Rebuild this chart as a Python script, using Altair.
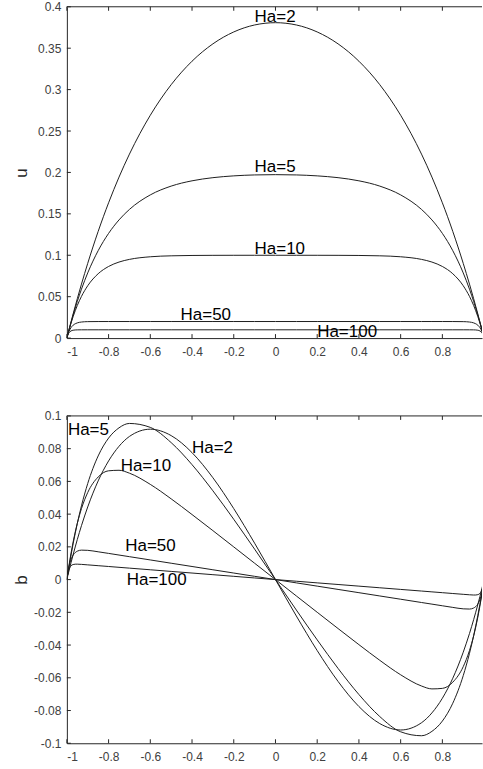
import altair as alt
import pandas as pd

# x positions across the channel
X = [-1, -0.995, -0.99, -0.98, -0.97, -0.96, -0.95, -0.93, -0.9, -0.85, -0.8, -0.75, -0.7,
     -0.6, -0.5, -0.4, -0.3, -0.2, -0.1, 0,
     0.1, 0.2, 0.3, 0.4, 0.5, 0.6, 0.7, 0.75, 0.8, 0.85, 0.9, 0.93, 0.95, 0.96, 0.97,
     0.98, 0.99, 0.995, 1]

HA_NAMES = ["Ha=2", "Ha=5", "Ha=10", "Ha=50", "Ha=100"]

# velocity u
U_HA2 = [0, 0.00498, 0.0099, 0.01959, 0.02908, 0.03838, 0.04749, 0.06514, 0.09026, 0.12874,
         0.16333, 0.19436, 0.22213, 0.26904, 0.30593, 0.33428, 0.35523, 0.36962, 0.37803,
         0.3808,
         0.37803, 0.36962, 0.35523, 0.33428, 0.30593, 0.26904, 0.22213, 0.19436, 0.16333,
         0.12874, 0.09026, 0.06514, 0.04749, 0.03838, 0.02908, 0.01959, 0.0099, 0.00498, 0]
U_HA5 = [0, 0.00494, 0.00975, 0.01903, 0.02786, 0.03625, 0.04424, 0.05906, 0.07869, 0.10552,
         0.12641, 0.14268, 0.15535, 0.17288, 0.18349, 0.18988, 0.19368, 0.19586, 0.19698,
         0.19732,
         0.19698, 0.19586, 0.19368, 0.18988, 0.18349, 0.17288, 0.15535, 0.14268, 0.12641,
         0.10552, 0.07869, 0.05906, 0.04424, 0.03625, 0.02786, 0.01903, 0.00975, 0.00494, 0]
U_HA10 = [0, 0.00488, 0.00952, 0.01813, 0.02592, 0.03297, 0.03935, 0.05034, 0.06321, 0.07769,
          0.08647, 0.09179, 0.09502, 0.09817, 0.09933, 0.09975, 0.09991, 0.09997, 0.09999,
          0.09999,
          0.09999, 0.09997, 0.09991, 0.09975, 0.09933, 0.09817, 0.09502, 0.09179, 0.08647,
          0.07769, 0.06321, 0.05034, 0.03935, 0.03297, 0.02592, 0.01813, 0.00952, 0.00488, 0]
U_HA50 = [0, 0.00442, 0.00787, 0.01264, 0.01554, 0.01729, 0.01836, 0.0194, 0.01987, 0.01999,
          0.02, 0.02, 0.02, 0.02, 0.02, 0.02, 0.02, 0.02, 0.02,
          0.02,
          0.02, 0.02, 0.02, 0.02, 0.02, 0.02, 0.02, 0.02, 0.02,
          0.01999, 0.01987, 0.0194, 0.01836, 0.01729, 0.01554, 0.01264, 0.00787, 0.00442, 0]
U_HA100 = [0, 0.00394, 0.00632, 0.00865, 0.0095, 0.00982, 0.00993, 0.00999, 0.01, 0.01,
           0.01, 0.01, 0.01, 0.01, 0.01, 0.01, 0.01, 0.01, 0.01,
           0.01,
           0.01, 0.01, 0.01, 0.01, 0.01, 0.01, 0.01, 0.01, 0.01,
           0.01, 0.01, 0.00999, 0.00993, 0.00982, 0.0095, 0.00865, 0.00632, 0.00394, 0]

# induced field b
B_HA2 = [0, 0.00266, 0.00527, 0.01035, 0.01524, 0.01993, 0.02445, 0.03294, 0.04439, 0.06027,
         0.0725, 0.08145, 0.08747, 0.0919, 0.08798, 0.07757, 0.06223, 0.04337, 0.02224,
         0,
         -0.02224, -0.04337, -0.06223, -0.07757, -0.08798, -0.0919, -0.08747, -0.08145, -0.0725,
         -0.06027, -0.04439, -0.03294, -0.02445, -0.01993, -0.01524, -0.01035, -0.00527, -0.00266, 0]
B_HA5 = [0, 0.00394, 0.00776, 0.01503, 0.02186, 0.02826, 0.03425, 0.04507, 0.0587, 0.07554,
         0.08645, 0.09273, 0.09541, 0.093, 0.08369, 0.07023, 0.05426, 0.03683, 0.0186,
         0,
         -0.0186, -0.03683, -0.05426, -0.07023, -0.08369, -0.093, -0.09541, -0.09273, -0.08645,
         -0.07554, -0.0587, -0.04507, -0.03425, -0.02826, -0.02186, -0.01503, -0.00776, -0.00394, 0]
B_HA10 = [0, 0.00438, 0.00852, 0.01613, 0.02292, 0.02897, 0.03435, 0.04334, 0.05321, 0.06269,
          0.06647, 0.06679, 0.06502, 0.05817, 0.04933, 0.03975, 0.02991, 0.01997, 0.00999,
          0,
          -0.00999, -0.01997, -0.02991, -0.03975, -0.04933, -0.05817, -0.06502, -0.06679, -0.06647,
          -0.06269, -0.05321, -0.04334, -0.03435, -0.02897, -0.02292, -0.01613, -0.00852, -0.00438, 0]
B_HA50 = [0, 0.00432, 0.00767, 0.01224, 0.01494, 0.01649, 0.01736, 0.018, 0.01787, 0.01699,
          0.016, 0.015, 0.014, 0.012, 0.01, 0.008, 0.006, 0.004, 0.002,
          0,
          -0.002, -0.004, -0.006, -0.008, -0.01, -0.012, -0.014, -0.015, -0.016,
          -0.01699, -0.01787, -0.018, -0.01736, -0.01649, -0.01494, -0.01224, -0.00767, -0.00432, 0]
B_HA100 = [0, 0.00388, 0.00622, 0.00845, 0.0092, 0.00942, 0.00943, 0.00929, 0.009, 0.0085,
           0.008, 0.0075, 0.007, 0.006, 0.005, 0.004, 0.003, 0.002, 0.001,
           0,
           -0.001, -0.002, -0.003, -0.004, -0.005, -0.006, -0.007, -0.0075, -0.008,
           -0.0085, -0.009, -0.00929, -0.00943, -0.00942, -0.0092, -0.00845, -0.00622, -0.00388, 0]

# curve annotations
LAB_U = ["Ha=2", "Ha=5", "Ha=10", "Ha=50", "Ha=100"]
LX_U = [-0.1, -0.1, -0.1, -0.455, 0.2]
LY_U = [0.388, 0.207, 0.107, 0.028, 0.0076]

LAB_B = ["Ha=5", "Ha=2", "Ha=10", "Ha=50", "Ha=100"]
LX_B = [-0.995, -0.4, -0.742, -0.72, -0.713]
LY_B = [0.0913, 0.0805, 0.0696, 0.0203, 0.0]

# ticks
XT = [-1, -0.8, -0.6, -0.4, -0.2, 0, 0.2, 0.4, 0.6, 0.8]
UT = [0, 0.05, 0.1, 0.15, 0.2, 0.25, 0.3, 0.35, 0.4]
BT = [-0.1, -0.08, -0.06, -0.04, -0.02, 0, 0.02, 0.04, 0.06, 0.08, 0.1]

W = 416
H1 = 332
H2 = 328
FONT = "Liberation Sans"
AXC = "#262626"
LINEC = "#1e1e1e"
TICK = 4


def long_frame(series_list):
    rows = []
    for name, ys in zip(HA_NAMES, series_list):
        for xv, yv in zip(X, ys):
            rows.append({"x": xv, "v": yv, "ha": name})
    return pd.DataFrame(rows)


def panel(df, ydomain, yticks, ytitle, H, lab, lx, ly):
    xs = alt.Scale(domain=[-1, 0.99], nice=False, zero=False)
    ys = alt.Scale(domain=ydomain, nice=False, zero=False)
    xaxis = alt.Axis(values=XT, labelExpr="toString(datum.value)", title=None,
                     ticks=False, grid=False, labelPadding=8)
    yaxis = alt.Axis(values=yticks, labelExpr="toString(datum.value)", title=ytitle,
                     ticks=False, grid=False, labelPadding=6,
                     titleX=-45, titleY=H / 2, titleAngle=270,
                     titleAlign="center", titleBaseline="middle")
    X_ = lambda: alt.X("x:Q", scale=xs, axis=xaxis)
    Y_ = lambda: alt.Y("v:Q", scale=ys, axis=yaxis)

    lines = alt.Chart(df).mark_line(
        interpolate="monotone", clip=True, color=LINEC, strokeWidth=1
    ).encode(x=X_(), y=Y_(), detail="ha:N")

    xt = pd.DataFrame({"x": XT})
    yt = pd.DataFrame({"v": yticks})
    bottom_ticks = alt.Chart(xt).mark_rule(color=AXC, strokeWidth=1).encode(
        x=X_(), y=alt.value(H), y2=alt.value(H - TICK))
    top_ticks = alt.Chart(xt).mark_rule(color=AXC, strokeWidth=1).encode(
        x=X_(), y=alt.value(0), y2=alt.value(TICK))
    left_ticks = alt.Chart(yt).mark_rule(color=AXC, strokeWidth=1).encode(
        y=Y_(), x=alt.value(0), x2=alt.value(TICK))
    top_border = alt.Chart(pd.DataFrame({"k": [0]})).mark_rule(color=AXC, strokeWidth=1).encode(
        x=alt.value(0), x2=alt.value(W), y=alt.value(0))

    texts = alt.Chart(pd.DataFrame({"x": lx, "v": ly, "t": lab})).mark_text(
        align="left", baseline="middle", font=FONT, fontSize=17, color="#000000"
    ).encode(x=X_(), y=Y_(), text="t:N")

    return alt.layer(lines, bottom_ticks, top_ticks, left_ticks, top_border, texts).properties(
        width=W, height=H)


top = panel(long_frame([U_HA2, U_HA5, U_HA10, U_HA50, U_HA100]), [0, 0.4], UT, "u", H1,
            LAB_U, LX_U, LY_U)
bottom = panel(long_frame([B_HA2, B_HA5, B_HA10, B_HA50, B_HA100]), [-0.1, 0.1], BT, "b", H2,
               LAB_B, LX_B, LY_B)

chart = alt.vconcat(top, bottom, spacing=53).properties(
    padding={"left": 13, "top": 0, "right": 0, "bottom": 0}
).configure_view(stroke=None).configure_axis(
    labelFont=FONT, labelFontSize=12, labelColor="#404040",
    domainColor=AXC, domainWidth=1,
    titleFont=FONT, titleFontSize=17, titleFontWeight="normal", titleColor=AXC
)

chart.save("out.html", embed_options={"renderer": "svg", "actions": False})
